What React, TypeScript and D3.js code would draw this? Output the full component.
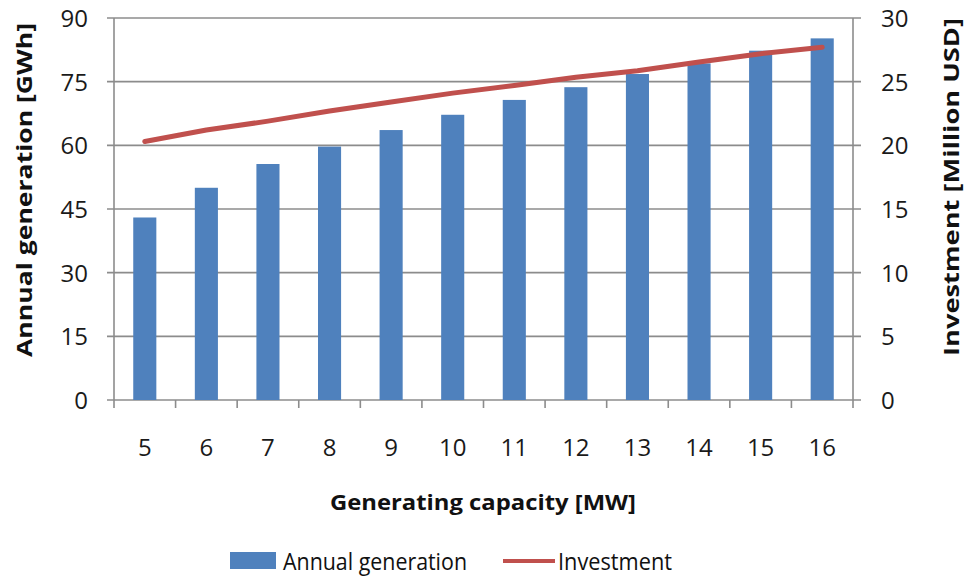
import React from "react";
import * as d3 from "d3";

const capacities = [5, 6, 7, 8, 9, 10, 11, 12, 13, 14, 15, 16];
const annualGeneration = [43.0, 50.0, 55.6, 59.7, 63.6, 67.2, 70.7, 73.7, 76.8, 79.3, 82.3, 85.2];
const investment = [20.3, 21.2, 21.9, 22.7, 23.4, 24.1, 24.7, 25.35, 25.85, 26.55, 27.2, 27.7];
const leftTicks = [0, 15, 30, 45, 60, 75, 90];
const rightTicks = [0, 5, 10, 15, 20, 25, 30];

const W = 966;
const H = 577;
const L = 114;
const R = 853;
const T = 18;
const B = 400;
const FONT = "'Open Sans', 'Noto Sans', sans-serif";
const GRID = "#8c8c8c";
const TXT = "#1a1a1a";

export default function App() {
  const xb = d3.scaleBand<number>().domain(capacities).range([L, R]);
  const yL = d3.scaleLinear().domain([0, 90]).range([B, T]);
  const yR = d3.scaleLinear().domain([0, 30]).range([B, T]);
  const cx = (c: number) => (xb(c) as number) + xb.bandwidth() / 2;
  const line = d3
    .line<number>()
    .x((_, i) => cx(capacities[i]))
    .y((d) => yR(d));

  const bounds = capacities.map((c) => xb(c) as number).concat([R]);
  const bw = xb.bandwidth() * 0.375;

  return (
    <svg width={W} height={H} style={{ position: "absolute", left: 0, top: 0, background: "#fff" }} fontFamily={FONT}>
      {leftTicks.map((t) => (
        <line key={"g" + t} x1={L - 7} x2={R + 8} y1={yL(t)} y2={yL(t)} stroke={GRID} strokeWidth={1.6} />
      ))}
      <line x1={L} x2={L} y1={T} y2={B} stroke={GRID} strokeWidth={1.6} />
      <line x1={R} x2={R} y1={T} y2={B} stroke={GRID} strokeWidth={1.6} />
      {bounds.map((bx, i) => (
        <line key={"xt" + i} x1={bx} x2={bx} y1={B} y2={B + 8} stroke={GRID} strokeWidth={1.6} />
      ))}
      {capacities.map((c, i) => (
        <rect key={"b" + c} x={cx(c) - bw / 2} y={yL(annualGeneration[i])} width={bw} height={B - yL(annualGeneration[i])} fill="#4F81BD" />
      ))}
      <path d={line(investment) || ""} fill="none" stroke="#C0504D" strokeWidth={5} strokeLinecap="round" strokeLinejoin="round" />
      {leftTicks.map((t) => (
        <text key={"lt" + t} x={88} y={yL(t) + 9} textAnchor="end" fontSize={24} fill={TXT}>
          {t}
        </text>
      ))}
      {rightTicks.map((t) => (
        <text key={"rt" + t} x={881} y={yR(t) + 9} textAnchor="start" fontSize={24} fill={TXT}>
          {t}
        </text>
      ))}
      {capacities.map((c) => (
        <text key={"xl" + c} x={cx(c)} y={456} textAnchor="middle" fontSize={24} fill={TXT}>
          {c}
        </text>
      ))}
      <text transform={`translate(32,190) rotate(-90)`} textAnchor="middle" fontSize={22} fontWeight="bold" fill="#111" textLength={334} lengthAdjust="spacingAndGlyphs">
        Annual generation  [GWh]
      </text>
      <text transform={`translate(959,187) rotate(-90)`} textAnchor="middle" fontSize={22} fontWeight="bold" fill="#111" textLength={338} lengthAdjust="spacingAndGlyphs">
        Investment [Million USD]
      </text>
      <text x={483} y={510} textAnchor="middle" fontSize={21} fontWeight="bold" fill="#111" textLength={306} lengthAdjust="spacingAndGlyphs">
        Generating capacity  [MW]
      </text>
      <rect x={230} y={552} width={46} height={17} fill="#4F81BD" />
      <text x={283} y={570} fontSize={23} fill="#111" textLength={184} lengthAdjust="spacingAndGlyphs">
        Annual generation
      </text>
      <line x1={503} x2={555} y1={561} y2={561} stroke="#C0504D" strokeWidth={4} />
      <text x={558} y={570} fontSize={23} fill="#111" textLength={114} lengthAdjust="spacingAndGlyphs">
        Investment
      </text>
    </svg>
  );
}
